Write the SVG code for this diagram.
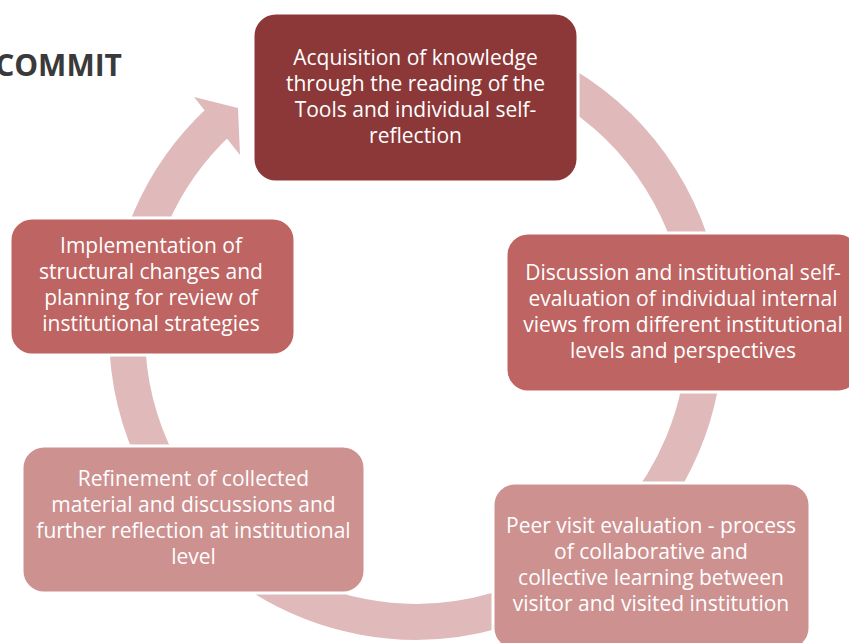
<svg xmlns="http://www.w3.org/2000/svg" width="849" height="643" viewBox="0 0 849 643">
  <style>
    .box { stroke: #FFFFFF; stroke-width: 3; }
    .lbl { font-family: "Open Sans", "Liberation Sans", sans-serif; font-size: 21px; fill: #FFFFFF; text-anchor: middle; }
    .ring { fill: none; stroke: #E0BABA; stroke-width: 36; }
    .head { fill: #E0BABA; }
    .title { font-family: "Open Sans", "Liberation Sans", sans-serif; font-size: 30px; font-weight: bold; fill: #3A3A3A; text-anchor: end; }
  </style>
  <rect width="849" height="643" fill="#FFFFFF"/>
  <text class="title" x="122" y="76">COMMIT</text>
  <g id="connectors">
    <path class="ring" d="M 466.2 48.2 A 289 289 0 1 1 220.8 119.7"/>
    <polygon class="head" points="194,97 238,108 240,155"/>
  </g>
  <g id="node1">
    <rect class="box" x="253" y="13" width="325" height="169" rx="23" fill="#8C3838"/>
    <text class="lbl" x="415.5" y="65">Acquisition of knowledge</text>
    <text class="lbl" x="415.5" y="91">through the reading of the</text>
    <text class="lbl" x="415.5" y="117">Tools and individual self-</text>
    <text class="lbl" x="415.5" y="143">reflection</text>
  </g>
  <g id="node2">
    <rect class="box" x="506" y="233" width="354" height="159" rx="22" fill="#BE6462"/>
    <text class="lbl" x="683" y="280">Discussion and institutional self-</text>
    <text class="lbl" x="683" y="306">evaluation of individual internal</text>
    <text class="lbl" x="683" y="332">views from different institutional</text>
    <text class="lbl" x="683" y="358">levels and perspectives</text>
  </g>
  <g id="node3">
    <rect class="box" x="493" y="483" width="317" height="167" rx="22" fill="#CD9190"/>
    <text class="lbl" x="651" y="533">Peer visit evaluation - process</text>
    <text class="lbl" x="651" y="559">of collaborative and</text>
    <text class="lbl" x="651" y="585">collective learning between</text>
    <text class="lbl" x="651" y="611">visitor and visited institution</text>
  </g>
  <g id="node4">
    <rect class="box" x="22" y="446" width="343" height="147" rx="22" fill="#CD9190"/>
    <text class="lbl" x="193.5" y="486">Refinement of collected</text>
    <text class="lbl" x="193.5" y="512">material and discussions and</text>
    <text class="lbl" x="193.5" y="538">further reflection at institutional</text>
    <text class="lbl" x="193.5" y="564">level</text>
  </g>
  <g id="node5">
    <rect class="box" x="10" y="218" width="285" height="137" rx="22" fill="#BE6462"/>
    <text class="lbl" x="151" y="253">Implementation of</text>
    <text class="lbl" x="151" y="279">structural changes and</text>
    <text class="lbl" x="151" y="305">planning for review of</text>
    <text class="lbl" x="151" y="331">institutional strategies</text>
  </g>
</svg>
